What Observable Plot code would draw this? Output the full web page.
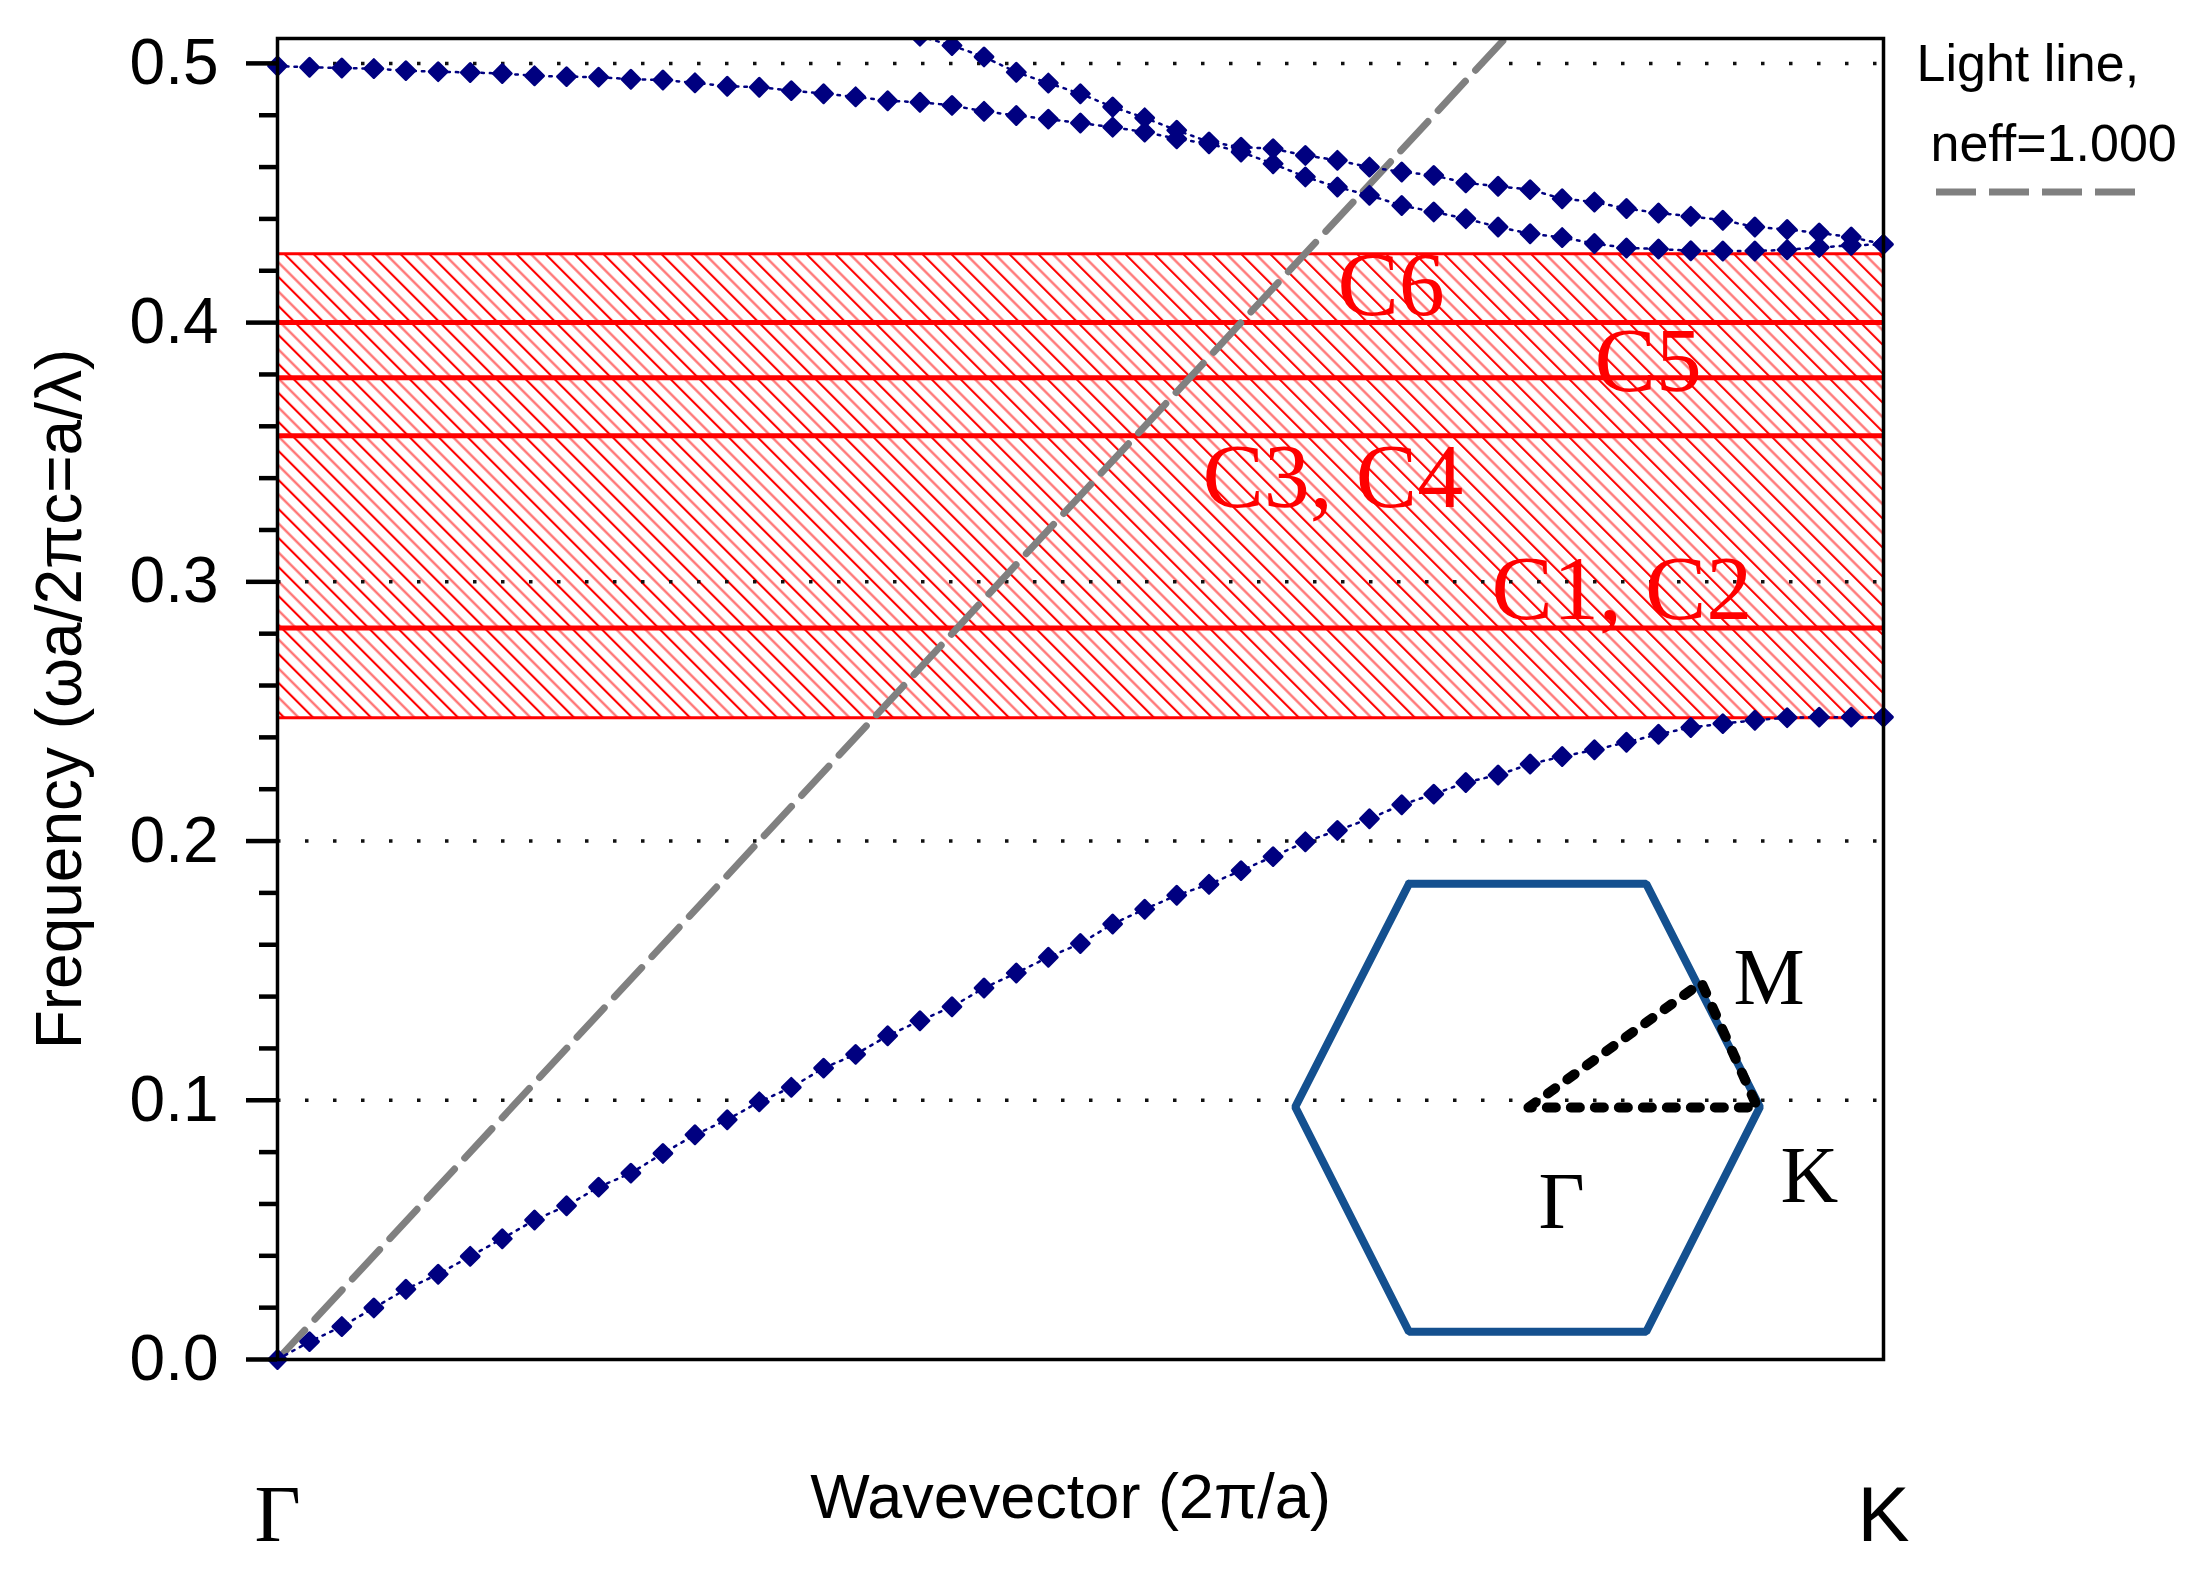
<!DOCTYPE html>
<html><head><meta charset="utf-8">
<script src="https://cdn.jsdelivr.net/npm/d3@7"></script>
<script src="https://cdn.jsdelivr.net/npm/@observablehq/plot@0.6"></script>
<style>html,body{margin:0;padding:0;background:#fff;} svg{display:block}</style>
</head><body><div id="chart"></div>
<script>
// ---- data ----
const kPoints = [0, 0.0133, 0.0267, 0.04, 0.0533, 0.0667, 0.08, 0.0933, 0.1067, 0.12, 0.1333, 0.1467, 0.16, 0.1733, 0.1867, 0.2, 0.2133, 0.2267, 0.24, 0.2533, 0.2667, 0.28, 0.2933, 0.3067, 0.32, 0.3333, 0.3467, 0.36, 0.3733, 0.3867, 0.4, 0.4133, 0.4267, 0.44, 0.4533, 0.4667, 0.48, 0.4933, 0.5067, 0.52, 0.5333, 0.5467, 0.56, 0.5733, 0.5867, 0.6, 0.6133, 0.6267, 0.64, 0.6533, 0.6667];
const band1 = [0, 0.0069, 0.0127, 0.0199, 0.0271, 0.0329, 0.0398, 0.0466, 0.0538, 0.0593, 0.0665, 0.0719, 0.0795, 0.0867, 0.0925, 0.0994, 0.1050, 0.1124, 0.1177, 0.1249, 0.1307, 0.1361, 0.1433, 0.1491, 0.1552, 0.1605, 0.1680, 0.1737, 0.1791, 0.1833, 0.1886, 0.1940, 0.1997, 0.2041, 0.2086, 0.2140, 0.2181, 0.2226, 0.2255, 0.2297, 0.2326, 0.2352, 0.2381, 0.2412, 0.2438, 0.2453, 0.2466, 0.2476, 0.2478, 0.2478, 0.2478];
const band2 = [0.4990, 0.4985, 0.4982, 0.4980, 0.4972, 0.4968, 0.4965, 0.4961, 0.4952, 0.4949, 0.4947, 0.4939, 0.4936, 0.4925, 0.4912, 0.4908, 0.4895, 0.4883, 0.4871, 0.4856, 0.4850, 0.4838, 0.4815, 0.4799, 0.4785, 0.4770, 0.4754, 0.4735, 0.4709, 0.4690, 0.4658, 0.4613, 0.4562, 0.4523, 0.4491, 0.4452, 0.4427, 0.4401, 0.4369, 0.4343, 0.4328, 0.4305, 0.4288, 0.4284, 0.4277, 0.4276, 0.4276, 0.4281, 0.4290, 0.4298, 0.4302];
const band3 = [null, null, null, null, null, null, null, null, null, null, null, null, null, null, null, null, null, null, null, null, 0.5105, 0.5069, 0.5025, 0.4966, 0.4924, 0.4883, 0.4832, 0.4790, 0.4742, 0.4697, 0.4677, 0.4671, 0.4645, 0.4626, 0.4600, 0.4581, 0.4568, 0.4539, 0.4526, 0.4513, 0.4478, 0.4465, 0.4440, 0.4423, 0.4410, 0.4395, 0.4369, 0.4359, 0.4346, 0.4330, 0.4302];

const kMax = 0.6667, fMax = 0.5096;
const gapBottom = 0.2476, gapTop = 0.4266;
const modeLines = [0.4000, 0.3787, 0.3564, 0.2822];
const modeLabels = ["C6", "C5", "C3, C4", "C1, C2"];
const modeLabelK = [0.440, 0.5467, 0.384, 0.504];
const modeLabelF = [0.403, 0.3735, 0.329, 0.2855];

const lightLineK = [0, 0.52];
const lightLineF = [0, 0.52];

const yTicks = [0, 0.1, 0.2, 0.3, 0.4, 0.5];
const yMinorTicks = [0.02, 0.04, 0.06, 0.08, 0.12, 0.14, 0.16, 0.18, 0.22, 0.24, 0.26, 0.28, 0.32, 0.34, 0.36, 0.38, 0.42, 0.44, 0.46, 0.48];
const gridLevels = [0.1, 0.2, 0.3, 0.4, 0.5];

// Brillouin-zone inset (in chart data units)
const hexK = [0.4697, 0.5682, 0.6154, 0.5682, 0.4697, 0.4225, 0.4697];
const hexF = [0.1835, 0.1835, 0.0974, 0.0107, 0.0107, 0.0974, 0.1835];
const pathK = [0.5193, 0.5911, 0.6144, 0.5193];
const pathF = [0.0972, 0.1454, 0.0972, 0.0972];
const insetLabels = ["M", "K", "Γ"];
const insetK = [0.6044, 0.6239, 0.5235];
const insetF = [0.1373, 0.0606, 0.0509];

const endLabels = ["Γ", "K"];
const endK = [0, 0.6667];

// ---- tables ----
const rows = [];
kPoints.forEach((k, i) => {
  rows.push({k, f: band1[i], band: "b1"});
  rows.push({k, f: band2[i], band: "b2"});
  if (band3[i] != null) rows.push({k, f: band3[i], band: "b3"});
});
const rowsLow = rows.filter(d => d.band !== "b3");
const rowsB3 = rows.filter(d => d.band === "b3");
const gapRect = [{x1: 0, x2: kMax, y1: gapBottom, y2: gapTop}];
const modeText = modeLabels.map((t, i) => ({t, k: modeLabelK[i], f: modeLabelF[i]}));
const lightLine = lightLineK.map((k, i) => ({k, f: lightLineF[i]}));
const hex = hexK.map((k, i) => ({k, f: hexF[i]}));
const gmk = pathK.map((k, i) => ({k, f: pathF[i]}));
const insetText = insetLabels.map((t, i) => ({t, k: insetK[i], f: insetF[i]}));

const navy = "#000080";
const serif = "'Liberation Serif', 'Times New Roman', serif";

const chart = Plot.plot({
  width: 2202, height: 1571,
  marginLeft: 277, marginRight: 319, marginTop: 38, marginBottom: 212,
  x: {domain: [0, kMax], axis: null},
  y: {domain: [0, fMax], axis: null},
  style: {fontFamily: "'Liberation Sans', Arial, sans-serif", background: "white", maxWidth: "none", overflow: "visible"},
  marks: [
    Plot.rect(gapRect, {x1: "x1", x2: "x2", y1: "y1", y2: "y2", fill: "url(#hatch)"}),
    Plot.gridY(gridLevels, {stroke: "#111", strokeOpacity: 1, strokeWidth: 3.5, strokeDasharray: "3.5,24.5"}),
    Plot.ruleY([gapBottom, gapTop], {stroke: "#ff0000", strokeWidth: 3}),
    Plot.ruleY(modeLines, {stroke: "#ff0000", strokeWidth: 5}),
    Plot.line(lightLine, {x: "k", y: "f", stroke: "#808080", strokeWidth: 7, strokeDasharray: "40,15", clip: true}),
    Plot.line(rows, {x: "k", y: "f", z: "band", stroke: navy, strokeWidth: 2.5, strokeDasharray: "2.5,6", clip: true}),
    Plot.dot(rowsLow, {x: "k", y: "f", symbol: "diamond2", r: 8, fill: navy, stroke: navy, strokeWidth: 3, strokeLinejoin: "round"}),
    Plot.dot(rowsB3, {x: "k", y: "f", symbol: "diamond2", r: 8, fill: navy, stroke: navy, strokeWidth: 3, strokeLinejoin: "round", clip: true}),
    Plot.text(modeText, {x: "k", y: "f", text: "t", textAnchor: "start", lineAnchor: "bottom", fill: "#ff0000", fontFamily: serif, fontSize: 92}),
    Plot.line(hex, {x: "k", y: "f", stroke: "#14508f", strokeWidth: 8, strokeLinejoin: "miter"}),
    Plot.line(gmk, {x: "k", y: "f", stroke: "black", strokeWidth: 10, strokeDasharray: "9,15"}),
    Plot.text(insetText, {x: "k", y: "f", text: "t", textAnchor: "start", lineAnchor: "bottom", fill: "black", fontFamily: serif, fontSize: 80}),
    Plot.frame({stroke: "black", strokeWidth: 3.5}),
    Plot.axisY({ticks: yTicks, tickSize: 31, tickPadding: 28, tickFormat: d3.format(".1f"), fontSize: 64, strokeWidth: 4.5, label: null}),
    Plot.axisY({ticks: yMinorTicks, tickSize: 18, tickFormat: () => "", strokeWidth: 4.5, label: null}),
    Plot.text(["Frequency (ωa/2πc=a/λ)"], {frameAnchor: "left", rotate: -90, dx: -197, textAnchor: "middle", lineAnchor: "bottom", fontSize: 64}),
    Plot.text(["Wavevector (2π/a)"], {frameAnchor: "bottom", dx: -10, dy: 158, textAnchor: "middle", lineAnchor: "bottom", fontSize: 63}),
    Plot.text([{k: endK[0], t: endLabels[0]}], {x: "k", text: "t", frameAnchor: "bottom", dy: 181, lineAnchor: "bottom", fontFamily: serif, fontSize: 80}),
    Plot.text([{k: endK[1], t: endLabels[1]}], {x: "k", text: "t", frameAnchor: "bottom", dy: 181, lineAnchor: "bottom", fontSize: 78}),
    Plot.text(["Light line,"], {frameAnchor: "top-right", dx: 33, dy: 42, textAnchor: "start", lineAnchor: "bottom", fontSize: 52}),
    Plot.text(["neff=1.000"], {frameAnchor: "top-right", dx: 47, dy: 122, textAnchor: "start", lineAnchor: "bottom", fontSize: 52})
  ]
});

// hatch pattern + legend swatch (layout decorations)
const svg = d3.select(chart);
svg.insert("defs", ":first-child").html(
  '<pattern id="hatch" patternUnits="userSpaceOnUse" width="20.5" height="20.5" patternTransform="rotate(-45)">' +
  '<rect width="20.5" height="20.5" fill="white"/>' +
  '<line x1="1" y1="-1" x2="1" y2="22" stroke="#ff0000" stroke-width="2.2"/>' +
  '<line x1="11.25" y1="-1" x2="11.25" y2="22" stroke="#ff6a6a" stroke-width="2.2"/>' +
  '</pattern>');
const frameRight = 2202 - 319;
svg.append("line")
  .attr("x1", frameRight + 53).attr("x2", frameRight + 253)
  .attr("y1", 192).attr("y2", 192)
  .attr("stroke", "#808080").attr("stroke-width", 7).attr("stroke-dasharray", "40,13");

document.getElementById("chart").appendChild(chart);
</script>
</body></html>
